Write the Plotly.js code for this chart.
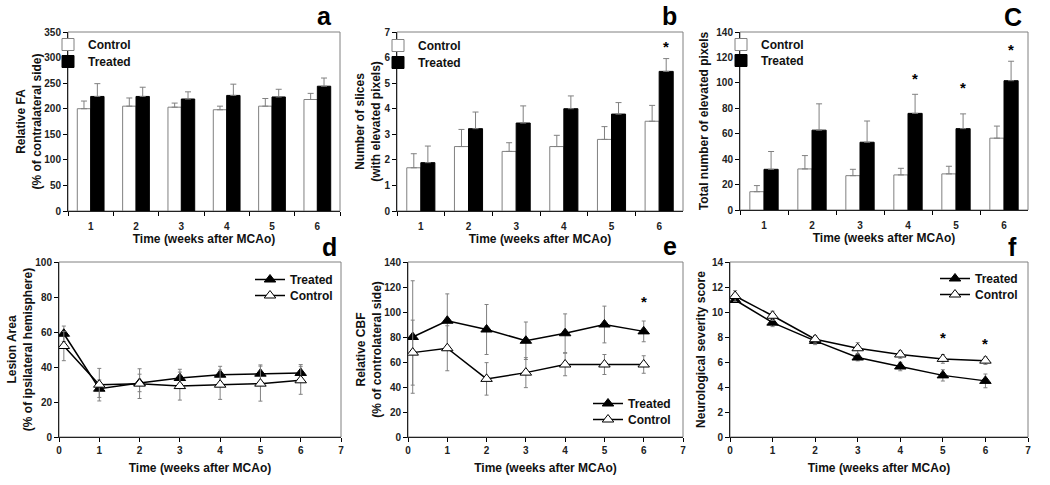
<!DOCTYPE html>
<html>
<head>
<meta charset="utf-8">
<script src="https://cdn.plot.ly/plotly-3.0.1.min.js"></script>
<style>html,body{margin:0;padding:0;background:#fff;}#chart{width:1050px;height:485px;}</style>
</head>
<body>
<div id="chart"></div>
<script>
// ---------- data ----------
var weeks = ['1', '2', '3', '4', '5', '6'];
// (a) Relative FA
var faControl = [200, 205, 203, 198, 205, 218];
var faControlErr = [15, 16, 8, 7, 15, 12];
var faTreated = [224, 224, 219, 226, 223, 244];
var faTreatedErr = [25, 18, 14, 22, 15, 16];
// (b) Number of slices
var slControl = [1.69, 2.52, 2.33, 2.52, 2.80, 3.51];
var slControlErr = [0.55, 0.67, 0.34, 0.44, 0.50, 0.62];
var slTreated = [1.89, 3.22, 3.44, 4.00, 3.79, 5.46];
var slTreatedErr = [0.65, 0.65, 0.67, 0.50, 0.45, 0.50];
// (c) Total number of elevated pixels
var pxControl = [14.4, 32.3, 27.0, 27.6, 28.4, 56.5];
var pxControlErr = [4.8, 10.5, 5.0, 5.2, 6.0, 9.5];
var pxTreated = [32.0, 62.8, 53.3, 76.0, 64.0, 101.7];
var pxTreatedErr = [14.0, 20.7, 16.7, 15.0, 11.6, 15.3];
// line panels
var timePts = [0.12, 1, 2, 3, 4, 5, 6];
// (d) Lesion area
var lesTreated = [59.0, 27.6, 30.9, 33.7, 35.6, 36.2, 36.6];
var lesTreatedErr = [4.4, 5.0, 5.0, 5.0, 4.8, 5.0, 4.8];
var lesControl = [52.0, 29.9, 30.5, 29.1, 29.9, 30.5, 32.4];
var lesControlErr = [8.4, 9.3, 8.5, 8.0, 8.4, 10.0, 8.0];
// (e) Relative CBF
var cbfTreated = [80.0, 93.0, 86.0, 77.0, 83.0, 90.0, 84.5];
var cbfTreatedErr = [45.0, 21.5, 20.0, 15.0, 15.5, 14.7, 8.3];
var cbfControl = [67.5, 71.0, 46.5, 51.5, 58.0, 58.0, 58.0];
var cbfControlErr = [26.0, 18.0, 13.0, 12.0, 9.0, 8.0, 7.0];
// (f) Neurological severity score
var nssTreated = [10.96, 9.15, 7.69, 6.36, 5.64, 4.93, 4.49];
var nssTreatedErr = [0.20, 0.32, 0.30, 0.27, 0.34, 0.45, 0.55];
var nssControl = [11.28, 9.70, 7.82, 7.10, 6.60, 6.25, 6.11];
var nssControlErr = [0.43, 0.37, 0.30, 0.45, 0.30, 0.35, 0.30];
// significance markers
var bStarWeeks = [6], bStarY = [6.57];
var cStarWeeks = [4, 5, 6], cStarY = [106.4, 99.6, 129.5];
var eStarWeeks = [6], eStarY = [112];
var fStarWeeks = [5, 6], fStarY = [8.3, 7.81];
// ---------- style ----------
var FONT = 'Liberation Sans, Arial, Helvetica, sans-serif';
var GRAY = '#808080';
var W = 1050, H = 485;
function px2x(p) { return p / W; }
function px2y(p) { return 1 - p / H; }
var zeros6 = [0, 0, 0, 0, 0, 0];

function barTraces(ctrl, ctrlErr, trt, trtErr, n, lgC, lgT) {
  var xa = n === 1 ? 'x' : 'x' + n, ya = n === 1 ? 'y' : 'y' + n;
  return [
    {type: 'bar', name: 'Control', x: weeks, y: ctrl, xaxis: xa, yaxis: ya, legend: lgC,
     marker: {color: '#ffffff', line: {color: GRAY, width: 1}},
     error_y: {type: 'data', symmetric: false, array: ctrlErr, arrayminus: zeros6, color: GRAY, thickness: 1, width: 3}},
    {type: 'bar', name: 'Treated', x: weeks, y: trt, xaxis: xa, yaxis: ya, legend: lgT,
     marker: {color: '#000000', line: {color: '#000000', width: 1}},
     error_y: {type: 'data', symmetric: false, array: trtErr, arrayminus: zeros6, color: GRAY, thickness: 1, width: 3}}
  ];
}
function lineTraces(trt, trtErr, ctrl, ctrlErr, n, lgT, lgC) {
  var xa = 'x' + n, ya = 'y' + n;
  return [
    {type: 'scatter', mode: 'lines+markers', name: 'Treated', x: timePts, y: trt, xaxis: xa, yaxis: ya, legend: lgT,
     line: {color: '#000000', width: 1.5},
     marker: {symbol: 'triangle-up', size: 10, color: '#000000', line: {color: '#000000', width: 1}},
     error_y: {type: 'data', array: trtErr, color: GRAY, thickness: 1, width: 2}},
    {type: 'scatter', mode: 'lines+markers', name: 'Control', x: timePts, y: ctrl, xaxis: xa, yaxis: ya, legend: lgC,
     line: {color: '#000000', width: 1.5},
     marker: {symbol: 'triangle-up', size: 10, color: '#ffffff', line: {color: '#000000', width: 1}},
     error_y: {type: 'data', array: ctrlErr, color: GRAY, thickness: 1, width: 2}}
  ];
}

var data = []
  .concat(barTraces(faControl, faControlErr, faTreated, faTreatedErr, 1, 'legend', 'legend2'))
  .concat(barTraces(slControl, slControlErr, slTreated, slTreatedErr, 2, 'legend3', 'legend4'))
  .concat(barTraces(pxControl, pxControlErr, pxTreated, pxTreatedErr, 3, 'legend5', 'legend6'))
  .concat(lineTraces(lesTreated, lesTreatedErr, lesControl, lesControlErr, 4, 'legend7', 'legend8'))
  .concat(lineTraces(cbfTreated, cbfTreatedErr, cbfControl, cbfControlErr, 5, 'legend9', 'legend10'))
  .concat(lineTraces(nssTreated, nssTreatedErr, nssControl, nssControlErr, 6, 'legend11', 'legend12'));

var tickFont = {family: FONT, size: 10, color: '#222', weight: 'bold'};
var titleFont = {family: FONT, size: 12, color: '#111', weight: 'bold'};

function xCat(domPx, anchor) {
  return {domain: [px2x(domPx[0]), px2x(domPx[1])], anchor: anchor, type: 'category',
    tickson: 'boundaries', ticks: 'outside', ticklen: 4, tickcolor: '#000', tickwidth: 1,
    ticklabelstandoff: 6,
    showline: true, linecolor: '#222', linewidth: 1, showgrid: false, zeroline: false,
    tickfont: tickFont, fixedrange: true,
    title: {text: 'Time (weeks after MCAo)', font: titleFont, standoff: 3}};
}
function xLin(domPx, anchor) {
  return {domain: [px2x(domPx[0]), px2x(domPx[1])], anchor: anchor, range: [0, 7], dtick: 1, tick0: 0,
    ticks: 'outside', ticklen: 4, tickcolor: '#000', tickwidth: 1,
    showline: true, linecolor: '#222', linewidth: 1, showgrid: false, zeroline: false,
    tickfont: tickFont, fixedrange: true,
    title: {text: 'Time (weeks after MCAo)', font: titleFont, standoff: 8}};
}
function yAx(domPx, anchor, range, dtick, title, standoff) {
  return {domain: [px2y(domPx[1]), px2y(domPx[0])], anchor: anchor, range: range, dtick: dtick, tick0: 0,
    ticks: 'outside', ticklen: 4, tickcolor: '#000', tickwidth: 1,
    showline: true, linecolor: '#222', linewidth: 1, showgrid: false, zeroline: false,
    tickfont: tickFont, fixedrange: true,
    title: {text: title, font: titleFont, standoff: standoff}};
}

// legend placed so that its text starts at textX and its item is centred at centerY
function legendAt(textX, centerY) {
  return {x: px2x(textX - 40), y: px2y(centerY - 14), xanchor: 'left', yanchor: 'top', bgcolor: 'rgba(0,0,0,0)',
    font: {family: FONT, size: 12, color: '#111', weight: 'bold'}, traceorder: 'normal',
    tracegroupgap: 0, itemwidth: 30, borderwidth: 0};
}

var layout = {
  width: W, height: H,
  margin: {l: 0, r: 0, t: 0, b: 0},
  paper_bgcolor: '#ffffff', plot_bgcolor: '#ffffff',
  barmode: 'group', bargap: 0.41, bargroupgap: 0,
  showlegend: true,
  font: {family: FONT, weight: 'bold'},
  xaxis: xCat([68, 340], 'y'),
  yaxis: yAx([32, 211], 'x', [0, 350], 50, 'Relative FA<br>(% of contralateral side)', 0),
  xaxis2: xCat([397, 683], 'y2'),
  yaxis2: yAx([32, 211], 'x2', [0, 7], 1, 'Number of slices<br>(with elevated pixels)', 1),
  xaxis3: xCat([740, 1028], 'y3'),
  yaxis3: yAx([32, 210], 'x3', [0, 140], 20, 'Total number of elevated pixels', 5),
  xaxis4: xLin([59, 341], 'y4'),
  yaxis4: yAx([262, 437], 'x4', [0, 100], 20, 'Lesion Area<br>(% of ipsilateral hemisphere)', 0),
  xaxis5: xLin([408, 683], 'y5'),
  yaxis5: yAx([262, 437], 'x5', [0, 140], 20, 'Relative CBF<br>(% of controlateral side)', 0),
  xaxis6: xLin([730, 1028], 'y6'),
  yaxis6: yAx([262, 437], 'x6', [0, 14], 2, 'Neurological severity score', 3),
  legend: legendAt(88, 44),
  legend2: legendAt(88, 61),
  legend3: legendAt(418, 45),
  legend4: legendAt(418, 62),
  legend5: legendAt(761, 44),
  legend6: legendAt(761, 60),
  legend7: legendAt(290, 279),
  legend8: legendAt(290, 295),
  legend9: legendAt(628, 403),
  legend10: legendAt(628, 419),
  legend11: legendAt(975, 278),
  legend12: legendAt(975, 294),
  shapes: [],
  annotations: []
};

// plot frames (gray box)
['', '2', '3', '4', '5', '6'].forEach(function (s) {
  layout.shapes.push({type: 'rect', xref: 'x' + s + ' domain', yref: 'y' + s + ' domain',
    x0: 0, x1: 1, y0: 0, y1: 1, line: {color: GRAY, width: 1}, layer: 'below'});
});

// panel letters
var letters = [['a', 333, 31], ['b', 678, 31], ['C', 1023, 32], ['d', 338, 262], ['e', 678, 261], ['f', 1018, 262]];
letters.forEach(function (l) {
  layout.annotations.push({text: l[0], xref: 'paper', yref: 'paper', x: px2x(l[1]), y: px2y(l[2]),
    xanchor: 'right', yanchor: 'bottom', showarrow: false, borderpad: 0,
    font: {family: FONT, size: 25, color: '#000', weight: 'bold'}});
});

// significance stars
function addStars(weeksArr, yArr, s, isBar) {
  weeksArr.forEach(function (w, i) {
    layout.annotations.push({text: '*', xref: 'x' + s, yref: 'y' + s,
      x: isBar ? (w - 1 + 0.15) : w, y: yArr[i], yshift: -4,
      showarrow: false, xanchor: 'center', yanchor: 'middle',
      font: {family: FONT, size: 15, color: '#000', weight: 'bold'}});
  });
}
addStars(bStarWeeks, bStarY, '2', true);
addStars(cStarWeeks, cStarY, '3', true);
addStars(eStarWeeks, eStarY, '5', false);
addStars(fStarWeeks, fStarY, '6', false);

Plotly.newPlot('chart', data, layout, {displayModeBar: false, staticPlot: true});
</script>
</body>
</html>
